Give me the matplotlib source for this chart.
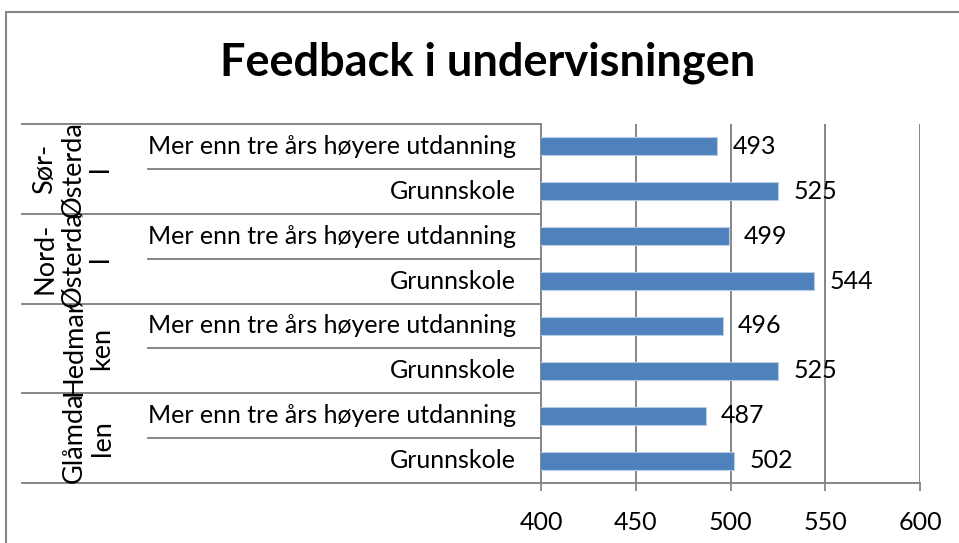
import matplotlib
matplotlib.use("Agg")
import matplotlib.pyplot as plt
from matplotlib.lines import Line2D
from matplotlib.patches import Rectangle
from matplotlib.transforms import blended_transform_factory

plt.rcParams['font.family'] = ['Lato', 'DejaVu Sans']

title = "Feedback i undervisningen"
regions = ["Sør-\nØsterda\nl", "Nord-\nØsterda\nl", "Hedmar\nken", "Glåmda\nlen"]
levels = ["Mer enn tre års høyere utdanning", "Grunnskole"]
values = [493, 525, 499, 544, 496, 525, 487, 502]
xticks = [400, 450, 500, 550, 600]

W, H = 959, 543
fig = plt.figure(figsize=(W / 100, H / 100), dpi=100)

def fx(px):
    return px / W

def fy(py):
    return 1 - py / H

bar_color = "#4F81BD"
grid_color = "#868686"
fs = 18

ax = fig.add_axes([fx(541), fy(483), fx(920) - fx(541), fy(124) - fy(483)])
n = len(values)
pos = list(range(n))
ax.barh(pos, values, height=0.4, left=0, color=bar_color,
        edgecolor="#B9CDE5", linewidth=0.8, zorder=3)
ax.set_xlim(xticks[0], xticks[-1])
ax.set_ylim(n - 0.5, -0.5)
ax.set_xticks(xticks)
ax.set_xticklabels([str(t) for t in xticks], fontsize=fs)
ax.set_yticks([])
ax.tick_params(axis="x", direction="out", length=5.5, width=1.3,
               color=grid_color, pad=15)
ax.grid(axis="x", color=grid_color, linewidth=1.4, zorder=0)
for s in ["top", "right"]:
    ax.spines[s].set_visible(False)
for s in ["left", "bottom"]:
    ax.spines[s].set_color(grid_color)
    ax.spines[s].set_linewidth(1.4)

for p, v in zip(pos, values):
    ax.annotate(str(v), (v, p), xytext=(11, 0), textcoords="offset points",
                va="center", ha="left", fontsize=fs, zorder=4)

# category label table to the left of the plot
tr = blended_transform_factory(fig.transFigure, ax.transData)
for i in range(len(regions) + 1):
    y = 2 * i - 0.5
    fig.add_artist(Line2D([fx(22), fx(541)], [y, y], transform=tr,
                          color=grid_color, linewidth=1.4))
for i in range(len(regions)):
    y = 2 * i + 0.5
    fig.add_artist(Line2D([fx(148), fx(541)], [y, y], transform=tr,
                          color=grid_color, linewidth=1.4))

for i, r in enumerate(regions):
    nlines = r.count("\n") + 1
    xc = 73 if nlines == 3 else 88
    fig.text(fx(xc), 2 * i + 0.5, r, transform=tr, rotation=90,
             ha="center", va="center", multialignment="center",
             fontsize=19.5, linespacing=1.15)

for i in range(n):
    fig.text(fx(516), i, levels[i % 2], transform=tr, ha="right",
             va="center", fontsize=fs)

fig.text(fx(488), fy(63), title, ha="center", va="center",
         fontsize=32.5, fontweight="bold")

fig.add_artist(Rectangle((fx(6), fy(560)), fx(980) - fx(6), fy(12) - fy(560),
                         transform=fig.transFigure, fill=False,
                         edgecolor=grid_color, linewidth=1.5))

fig.savefig("out.png", dpi=100)
